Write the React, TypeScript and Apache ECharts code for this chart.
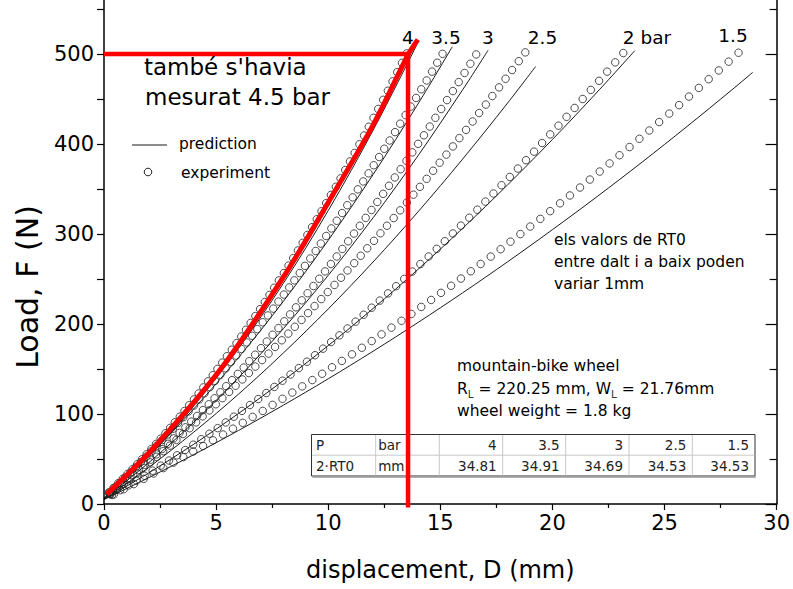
import React, { useEffect, useRef } from 'react';
import * as echarts from 'echarts';

const FONT = 'DejaVu Sans, Liberation Sans, Arial, sans-serif';

// ---------- data (displacement mm, load N) ----------
const exp4: [number, number][] = [[0.21,12.9],[0.42,17.9],[0.63,23.0],[0.84,28.1],[1.05,33.4],[1.27,38.7],[1.48,44.1],[1.69,49.7],[1.90,55.3],[2.11,61.0],[2.32,66.8],[2.53,72.6],[2.74,78.6],[2.95,84.6],[3.16,90.8],[3.38,97.0],[3.59,103.3],[3.80,109.7],[4.01,116.2],[4.22,122.8],[4.43,129.5],[4.64,136.3],[4.85,143.1],[5.06,150.1],[5.27,157.1],[5.48,164.2],[5.70,171.4],[5.91,178.7],[6.12,186.1],[6.33,193.6],[6.54,201.2],[6.75,208.8],[6.96,216.5],[7.17,224.4],[7.38,232.3],[7.59,240.3],[7.80,248.4],[8.02,256.6],[8.23,264.9],[8.44,273.2],[8.65,281.7],[8.86,290.2],[9.07,298.9],[9.28,307.6],[9.49,316.4],[9.70,325.3],[9.91,334.3],[10.12,343.4],[10.34,352.5],[10.55,361.8],[10.76,371.1],[10.97,380.6],[11.18,390.1],[11.39,399.7],[11.60,409.4],[11.81,419.2],[12.02,429.1],[12.23,439.0],[12.45,449.1],[12.66,459.2],[12.87,469.5],[13.08,479.8],[13.29,490.2],[13.50,500.7]];

const exp35: [number, number][] = [[0.24,12.5],[0.47,18.0],[0.71,23.6],[0.94,29.3],[1.18,35.0],[1.42,40.8],[1.65,46.7],[1.89,52.7],[2.12,58.7],[2.36,64.8],[2.60,71.0],[2.83,77.2],[3.07,83.6],[3.30,90.0],[3.54,96.4],[3.77,102.9],[4.01,109.5],[4.25,116.2],[4.48,123.0],[4.72,129.8],[4.95,136.7],[5.19,143.6],[5.43,150.7],[5.66,157.8],[5.90,164.9],[6.13,172.2],[6.37,179.5],[6.61,186.9],[6.84,194.3],[7.08,201.9],[7.31,209.5],[7.55,217.1],[7.78,224.9],[8.02,232.7],[8.26,240.6],[8.49,248.5],[8.73,256.6],[8.96,264.6],[9.20,272.8],[9.44,281.1],[9.67,289.4],[9.91,297.8],[10.14,306.2],[10.38,314.7],[10.62,323.3],[10.85,332.0],[11.09,340.7],[11.32,349.6],[11.56,358.4],[11.80,367.4],[12.03,376.4],[12.27,385.5],[12.50,394.7],[12.74,403.9],[12.98,413.2],[13.21,422.6],[13.45,432.1],[13.68,441.6],[13.92,451.2],[14.15,460.8],[14.39,470.6],[14.63,480.4],[14.86,490.3],[15.10,500.2]];

const exp3: [number, number][] = [[0.26,11.1],[0.52,16.3],[0.78,21.6],[1.04,27.0],[1.30,32.4],[1.56,38.0],[1.82,43.6],[2.08,49.3],[2.33,55.1],[2.59,61.0],[2.85,66.9],[3.11,72.9],[3.37,79.0],[3.63,85.2],[3.89,91.5],[4.15,97.8],[4.41,104.3],[4.67,110.8],[4.93,117.4],[5.19,124.1],[5.45,130.9],[5.71,137.7],[5.97,144.6],[6.23,151.6],[6.48,158.7],[6.74,165.9],[7.00,173.2],[7.26,180.5],[7.52,188.0],[7.78,195.4],[8.04,203.0],[8.30,210.7],[8.56,218.5],[8.82,226.3],[9.08,234.2],[9.34,242.2],[9.60,250.3],[9.86,258.4],[10.12,266.7],[10.38,275.0],[10.63,283.4],[10.89,291.9],[11.15,300.5],[11.41,309.1],[11.67,317.9],[11.93,326.7],[12.19,335.6],[12.45,344.6],[12.71,353.6],[12.97,362.8],[13.23,372.0],[13.49,381.3],[13.75,390.7],[14.01,400.2],[14.27,409.7],[14.53,419.4],[14.78,429.1],[15.04,438.9],[15.30,448.8],[15.56,458.8],[15.82,468.8],[16.08,478.9],[16.34,489.2],[16.60,499.5]];

const exp25: [number, number][] = [[0.29,10.7],[0.59,16.5],[0.88,22.3],[1.17,28.2],[1.47,34.2],[1.76,40.2],[2.06,46.3],[2.35,52.4],[2.64,58.7],[2.94,64.9],[3.23,71.3],[3.52,77.7],[3.82,84.2],[4.11,90.7],[4.40,97.4],[4.70,104.0],[4.99,110.8],[5.28,117.6],[5.58,124.5],[5.87,131.4],[6.17,138.4],[6.46,145.5],[6.75,152.7],[7.05,159.9],[7.34,167.1],[7.63,174.5],[7.93,181.9],[8.22,189.3],[8.51,196.9],[8.81,204.5],[9.10,212.1],[9.39,219.9],[9.69,227.7],[9.98,235.5],[10.28,243.4],[10.57,251.4],[10.86,259.5],[11.16,267.6],[11.45,275.8],[11.74,284.1],[12.04,292.4],[12.33,300.8],[12.62,309.2],[12.92,317.7],[13.21,326.3],[13.51,335.0],[13.80,343.7],[14.09,352.4],[14.39,361.3],[14.68,370.2],[14.97,379.2],[15.27,388.2],[15.56,397.3],[15.85,406.5],[16.15,415.7],[16.44,425.0],[16.73,434.4],[17.03,443.8],[17.32,453.3],[17.62,462.9],[17.91,472.5],[18.20,482.2],[18.50,492.0],[18.79,501.8]];

const exp2: [number, number][] = [[0.36,10.1],[0.72,15.3],[1.09,20.6],[1.45,26.0],[1.81,31.4],[2.17,37.0],[2.53,42.6],[2.90,48.3],[3.26,54.1],[3.62,60.0],[3.98,65.9],[4.34,72.0],[4.70,78.1],[5.07,84.3],[5.43,90.6],[5.79,97.0],[6.15,103.4],[6.51,110.0],[6.88,116.6],[7.24,123.3],[7.60,130.1],[7.96,137.0],[8.32,143.9],[8.69,151.0],[9.05,158.1],[9.41,165.3],[9.77,172.6],[10.13,180.0],[10.50,187.4],[10.86,195.0],[11.22,202.6],[11.58,210.3],[11.94,218.1],[12.30,226.0],[12.67,234.0],[13.03,242.0],[13.39,250.1],[13.75,258.3],[14.11,266.6],[14.48,275.0],[14.84,283.5],[15.20,292.0],[15.56,300.6],[15.92,309.3],[16.29,318.1],[16.65,327.0],[17.01,336.0],[17.37,345.0],[17.73,354.2],[18.10,363.4],[18.46,372.7],[18.82,382.0],[19.18,391.5],[19.54,401.1],[19.90,410.7],[20.27,420.4],[20.63,430.2],[20.99,440.1],[21.35,450.0],[21.71,460.1],[22.08,470.2],[22.44,480.4],[22.80,490.7],[23.16,501.1]];

const exp15: [number, number][] = [[0.44,10.6],[0.88,16.4],[1.33,22.1],[1.77,28.0],[2.21,33.9],[2.65,39.9],[3.10,46.0],[3.54,52.1],[3.98,58.3],[4.42,64.5],[4.86,70.8],[5.31,77.2],[5.75,83.7],[6.19,90.2],[6.63,96.8],[7.08,103.4],[7.52,110.1],[7.96,116.9],[8.40,123.8],[8.84,130.7],[9.29,137.7],[9.73,144.7],[10.17,151.9],[10.61,159.0],[11.06,166.3],[11.50,173.6],[11.94,181.0],[12.38,188.5],[12.82,196.0],[13.27,203.6],[13.71,211.2],[14.15,219.0],[14.59,226.7],[15.03,234.6],[15.48,242.5],[15.92,250.5],[16.36,258.6],[16.80,266.7],[17.25,274.9],[17.69,283.1],[18.13,291.5],[18.57,299.9],[19.01,308.3],[19.46,316.8],[19.90,325.4],[20.34,334.1],[20.78,342.8],[21.23,351.6],[21.67,360.5],[22.11,369.4],[22.55,378.4],[22.99,387.5],[23.44,396.6],[23.88,405.8],[24.32,415.0],[24.76,424.4],[25.21,433.8],[25.65,443.2],[26.09,452.7],[26.53,462.3],[26.97,472.0],[27.42,481.7],[27.86,491.5],[28.30,501.4]];

const pred4: [number, number][] = [[0,6],[2,53.2],[4,108.8],[6,172.8],[8,245.2],[10,326],[12,415.2],[13.95,510.2]];
const pred35: [number, number][] = [[0,7],[2,53.6],[4,105.6],[6,162.8],[8,225.2],[10,293],[12,366],[14,444.4],[15.53,507.9]];
const pred3: [number, number][] = [[0,6],[2,46],[4,90.8],[6,140.4],[8,194.8],[10,254],[12,318],[14,386.8],[16,460.4],[17.13,504.1]];
const pred25: [number, number][] = [[0,5],[2,40.7],[4,79.8],[6,122.1],[8,167.8],[10,216.7],[12,268.9],[14,324.5],[16,383.4],[18,445.5],[19.25,486.1]];
const pred2: [number, number][] = [[0,5],[2,34.6],[4,66.4],[6,100.6],[8,137.2],[10,176],[12,217.2],[14,260.6],[16,306.4],[18,354.6],[20,405],[22,457.8],[23.67,503.6]];
const pred15: [number, number][] = [[0,5],[2,29.3],[4,54.8],[6,81.7],[8,109.8],[10,139.1],[12,169.7],[14,201.6],[16,234.7],[18,269.1],[20,304.8],[22,341.7],[24,379.9],[26,419.4],[28,460.1],[28.93,479.5]];

// hand-drawn red annotation
const redCurve: [number, number][] = [[0.12,11],[2.2,62],[5.3,153],[8.1,256],[10.0,335],[12.0,421],[13.58,500],[14.0,516]];
const redHoriz: [number, number][] = [[0,500],[13.56,500]];
const redVert: [number, number][] = [[13.56,500],[13.56,-4]];

const curveLabels = ['4', '3.5', '3', '2.5', '2 bar', '1.5'];
const tableHeadRow1 = ['P', 'bar'];
const tableHeadRow2 = ['2·RT0', 'mm'];
const tablePressure = ['4', '3.5', '3', '2.5', '1.5'];
const tableRT0 = ['34.81', '34.91', '34.69', '34.53', '34.53'];

// axis ticks
const yLabelValues = [0, 100, 200, 300, 400, 500];
const yMinorValues = [50, 150, 250, 350, 450, 550];
const yAllTickValues = [0, 50, 100, 150, 200, 250, 300, 350, 400, 450, 500, 550];

// ---------- layout (pixels) ----------
const labelPos: [number, number][] = [[408,37.5],[446,37.5],[488,37.5],[542.5,37.5],[647,37.5],[733,35.5]];
const colEdges = [311.5, 375.7, 439.3, 502.7, 565.7, 629, 692.3, 755];
const tableTop = 434.5, tableMid = 455.2, tableBottom = 476;

const txt = (text: string, x: number, y: number, size: number, align = 'left', extra: any = {}) => ({
  type: 'text', x, y, silent: true, z: 50,
  style: { text, fontSize: size, fontFamily: FONT, fill: '#000', align, textAlign: align,
    verticalAlign: 'middle', textVerticalAlign: 'middle', ...extra },
});

export default function App() {
  const ref = useRef<HTMLDivElement>(null);
  useEffect(() => {
    if (!ref.current) return;
    const chart = echarts.init(ref.current, null, { renderer: 'svg' });

    const expSeries = [exp4, exp35, exp3, exp25, exp2, exp15].map((d) => ({
      type: 'scatter', name: 'experiment', data: d, symbol: 'circle', symbolSize: 7.5, z: 4,
      itemStyle: { color: 'rgba(255,255,255,0)', borderColor: '#222', borderWidth: 1 },
    }));
    const predSeries = [pred4, pred35, pred3, pred25, pred2, pred15].map((d) => ({
      type: 'line', name: 'prediction', data: d, smooth: 0.35, symbol: 'none', showSymbol: false, z: 3,
      lineStyle: { color: '#000', width: 0.9 },
    }));
    const redStyle = (w: number) => ({ color: '#ff0000', width: w, cap: 'butt' });
    const redSeries = [
      { type: 'line', data: redCurve, smooth: 0.3, symbol: 'none', z: 10, lineStyle: redStyle(5) },
      { type: 'line', data: redHoriz, symbol: 'none', z: 10, lineStyle: redStyle(4.5), clip: false },
      { type: 'line', data: redVert, symbol: 'none', z: 10, lineStyle: redStyle(4.5), clip: false },
    ];

    const graphics: any[] = [];
    curveLabels.forEach((t, i) => graphics.push(txt(t, labelPos[i][0], labelPos[i][1], 18.5, 'center')));
    graphics.push(txt("també s'havia", 144, 67, 23));
    graphics.push(txt('mesurat 4.5 bar', 145, 97, 23));
    graphics.push({ type: 'line', z: 50, shape: { x1: 132, y1: 145, x2: 167, y2: 145 }, style: { stroke: '#666', lineWidth: 1.5 } });
    graphics.push(txt('prediction', 179, 143.5, 15.5));
    graphics.push({ type: 'circle', z: 50, shape: { cx: 148, cy: 172, r: 3.8 }, style: { fill: 'none', stroke: '#222', lineWidth: 1 } });
    graphics.push(txt('experiment', 181, 173, 15.5));
    graphics.push(txt('els valors de RT0', 554, 240, 15.5));
    graphics.push(txt('entre dalt i a baix poden', 554, 262, 15.5));
    graphics.push(txt('variar 1mm', 554, 283.5, 15.5));
    graphics.push(txt('mountain-bike wheel', 457, 366, 15.5));
    graphics.push({
      type: 'text', x: 457, y: 389, silent: true, z: 50,
      style: {
        text: '{n|R}{s|L}{n| = 220.25 mm, W}{s|L}{n| = 21.76mm}',
        fontFamily: FONT, fill: '#000', align: 'left', textAlign: 'left', verticalAlign: 'middle', textVerticalAlign: 'middle',
        rich: {
          n: { fontSize: 15.5, fontFamily: FONT, lineHeight: 20, fill: '#000' },
          s: { fontSize: 10.5, fontFamily: FONT, lineHeight: 6, verticalAlign: 'bottom', fill: '#333' },
        },
      },
    });
    graphics.push(txt('wheel weight = 1.8 kg', 457, 411, 15.5));
    // y axis title (placed where the reference has it)
    graphics.push({
      type: 'text', x: 27, y: 287, rotation: Math.PI / 2, silent: true, z: 50,
      style: { text: 'Load, F (N)', fontSize: 30, fontFamily: FONT, fill: '#000', align: 'center', textAlign: 'center', verticalAlign: 'middle', textVerticalAlign: 'middle' },
    });

    // table
    const tw = colEdges[colEdges.length - 1] - colEdges[0];
    graphics.push({ type: 'rect', z: 1, shape: { x: colEdges[0], y: tableTop, width: tw, height: tableBottom - tableTop }, style: { fill: '#fff', stroke: '#333', lineWidth: 1 } });
    graphics.push({ type: 'line', z: 1, shape: { x1: colEdges[0] + 1, y1: tableBottom + 1.2, x2: colEdges[colEdges.length - 1] + 1, y2: tableBottom + 1.2 }, style: { stroke: '#999', lineWidth: 1.2 } });
    graphics.push({ type: 'line', z: 1, shape: { x1: colEdges[0] + 0.5, y1: tableMid, x2: colEdges[colEdges.length - 1] - 0.5, y2: tableMid }, style: { stroke: '#c8c8c8', lineWidth: 1 } });
    for (let i = 1; i < colEdges.length - 1; i++) {
      graphics.push({ type: 'line', z: 1, shape: { x1: colEdges[i], y1: tableTop + 0.5, x2: colEdges[i], y2: tableBottom - 0.5 }, style: { stroke: '#c8c8c8', lineWidth: 1 } });
    }
    const r1 = (tableTop + tableMid) / 2 + 0.5, r2 = (tableMid + tableBottom) / 2 + 0.5;
    const tfs = 13.5, tcol = '#222';
    graphics.push(txt(tableHeadRow1[0], colEdges[0] + 4.5, r1, tfs, 'left', { fill: tcol }));
    graphics.push(txt(tableHeadRow1[1], colEdges[1] + 2.5, r1, tfs, 'left', { fill: tcol }));
    graphics.push(txt(tableHeadRow2[0], colEdges[0] + 4.5, r2, tfs, 'left', { fill: tcol }));
    graphics.push(txt(tableHeadRow2[1], colEdges[1] + 2.5, r2, tfs, 'left', { fill: tcol }));
    tablePressure.forEach((t, i) => graphics.push(txt(t, colEdges[i + 3] - 6, r1, tfs, 'right', { fill: tcol })));
    tableRT0.forEach((t, i) => graphics.push(txt(t, colEdges[i + 3] - 6, r2, tfs, 'right', { fill: tcol })));

    const axisLineStyle = { show: true, onZero: false, lineStyle: { color: '#000', width: 1.5 } };
    const tickLine = { color: '#000', width: 1.2 };

    chart.setOption({
      animation: false,
      backgroundColor: '#fff',
      grid: { left: 104, right: 13, top: 0, bottom: 85, containLabel: false },
      xAxis: {
        type: 'value', min: 0, max: 30, interval: 5,
        name: 'displacement, D (mm)', nameLocation: 'middle', nameGap: 54,
        nameTextStyle: { fontSize: 24, fontFamily: FONT, color: '#000' },
        axisLine: axisLineStyle, splitLine: { show: false },
        axisTick: { show: true, length: 6, lineStyle: tickLine },
        minorTick: { show: true, splitNumber: 2, length: 4, lineStyle: tickLine },
        axisLabel: { fontSize: 21, fontFamily: FONT, color: '#000', margin: 8 },
      },
      yAxis: [
        {
          type: 'value', min: 0, max: 560, interval: 100, position: 'left',
          axisLine: axisLineStyle, splitLine: { show: false },
          axisTick: { show: true, length: 7, lineStyle: tickLine, customValues: yAllTickValues },
          axisLabel: { fontSize: 21, fontFamily: FONT, color: '#000', margin: 10, customValues: yLabelValues },
        },
        {
          type: 'value', min: 0, max: 560, interval: 100, position: 'right',
          axisLine: axisLineStyle, splitLine: { show: false },
          axisTick: { show: true, inside: true, length: 11, lineStyle: tickLine, customValues: yLabelValues },
          axisLabel: { show: false },
        },
        {
          type: 'value', min: 0, max: 560, interval: 100, position: 'right',
          axisLine: { show: false, onZero: false }, splitLine: { show: false },
          axisTick: { show: true, inside: true, length: 7, lineStyle: tickLine, customValues: yMinorValues },
          axisLabel: { show: false },
        },
      ],
      series: [...predSeries, ...expSeries, ...redSeries],
      graphic: graphics,
    });
    return () => chart.dispose();
  }, []);
  return <div ref={ref} style={{ position: 'absolute', left: 0, top: 0, width: 793, height: 589, background: '#fff' }} />;
}
